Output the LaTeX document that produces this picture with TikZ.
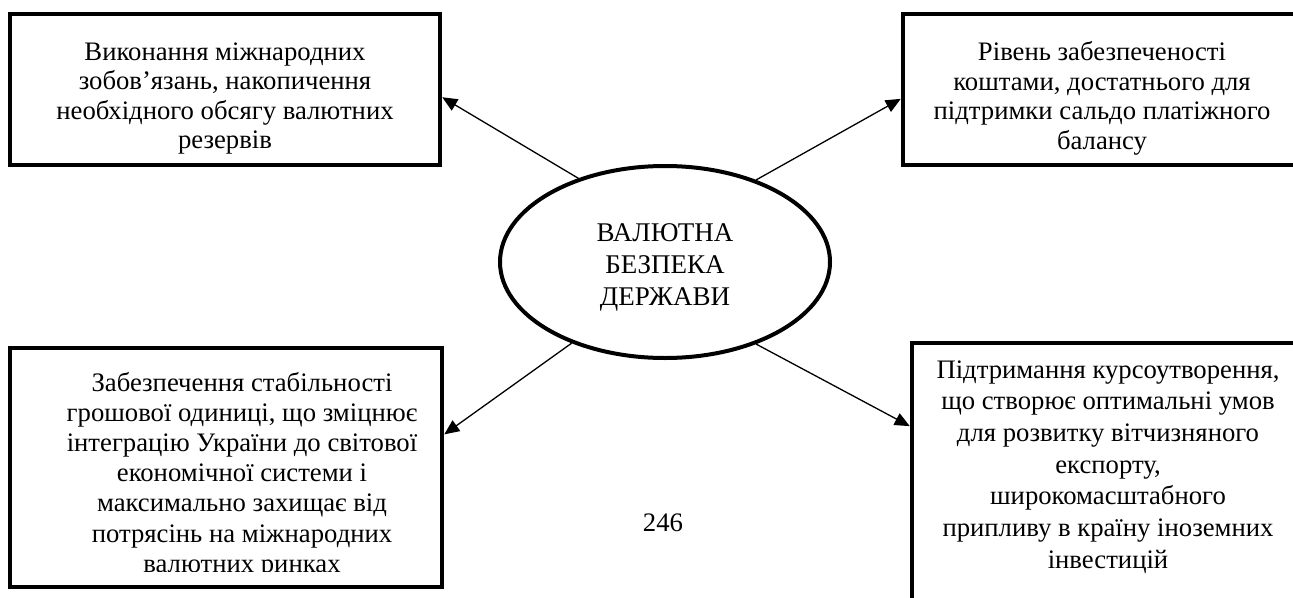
\documentclass[tikz,border=0pt]{standalone}
\usepackage{fontspec}
\setmainfont{Liberation Serif}
\usetikzlibrary{shapes.geometric,arrows.meta,calc}
\tikzset{
  boxframe/.style={draw, line width=4.5pt, minimum width=#1, inner sep=0pt},
  boxtext/.style={align=center, inner sep=0pt, font=\fontsize{26.7}{29.5}\selectfont},
  link/.style={line width=1.3pt, -{Triangle[length=15pt,width=13pt]}},
}
\begin{document}
\begin{tikzpicture}[x=1pt,y=-1pt]
\useasboundingbox (0,0) rectangle (1293,597);
% boxes
\node[boxframe=430pt, minimum height=151pt] (tl) at (225,89.5) {};
\node[boxframe=420pt, minimum height=151pt] (tr) at (1113,89.5) {};
\node[boxframe=432pt, minimum height=239pt] (bl) at (226,467.5) {};
\node[boxframe=420pt, minimum height=290pt] (br) at (1122,488) {};
% texts
\node[boxtext] (tlt) at (225,98.5) {Виконання міжнародних\\зобов’язань, накопичення\\необхідного обсягу валютних\\резервів};
\node[boxtext] (trt) at (1102,98.5) {Рівень забезпеченості\\коштами, достатнього для\\підтримки сальдо платіжного\\балансу};
\begin{scope}
\clip (13,351) rectangle (439,571.5);
\node[boxtext, font=\fontsize{26.7}{30.2}\selectfont] (blt) at (242,475) {Забезпечення стабільності\\грошової одиниці, що зміцнює\\інтеграцію України до світової\\економічної системи і\\максимально захищає від\\потрясінь на міжнародних\\валютних ринках};
\end{scope}
\node[boxtext, font=\fontsize{26.7}{31.7}\selectfont] (brt) at (1108,467) {Підтримання курсоутворення,\\що створює оптимальні умов\\для розвитку вітчизняного\\експорту,\\широкомасштабного\\припливу в країну іноземних\\інвестицій};
% ellipse
\node[ellipse, draw, line width=4pt, minimum width=330pt, minimum height=192pt, inner sep=0pt] (ell) at (665,262) {};
\node[boxtext, font=\fontsize{27}{32}\selectfont] (ellt) at (665,267) {ВАЛЮТНА\\БЕЗПЕКА\\ДЕРЖАВИ};
% page number
\node[inner sep=0pt, font=\fontsize{26.7}{30}\selectfont] (pg) at (663,523) {246};
% connectors
\draw[link] (ell.136) -- ($(tl.north east)!0.55!(tl.south east)$);
\draw[link] (ell.42) -- ($(tr.north west)!0.56!(tr.south west)$);
\draw[link] (ell.221) -- ($(bl.north east)!0.364!(bl.south east)$);
\draw[link] (ell.318) -- ($(br.north west)!0.29!(br.south west)$);
\end{tikzpicture}
\end{document}
